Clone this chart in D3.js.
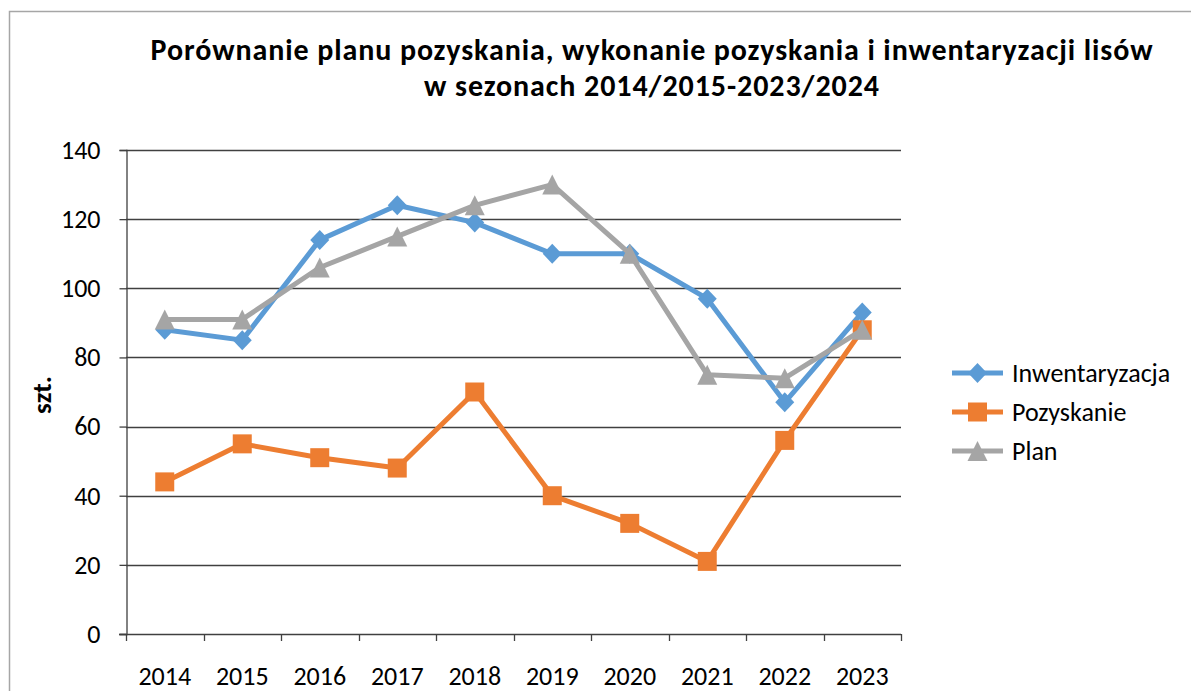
<!DOCTYPE html>
<html>
<head>
<meta charset="utf-8">
<script src="https://cdn.jsdelivr.net/npm/d3@7"></script>
<style>
  html, body { margin: 0; padding: 0; background: #fff; }
  svg { display: block; }
  text { font-family: Carlito, Calibri, Lato, "Open Sans", sans-serif; fill: #000; }
</style>
</head>
<body>
<svg id="chart" width="1191" height="691"></svg>
<script>
// Sezony (rok początkowy sezonu)
const years = ["2014", "2015", "2016", "2017", "2018", "2019", "2020", "2021", "2022", "2023"];
const inwentaryzacja = [88, 85, 114, 124, 119, 110, 110, 97, 67, 93];
const pozyskanie = [44, 55, 51, 48, 70, 40, 32, 21, 56, 88];
const plan = [91, 91, 106, 115, 124, 130, 110, 75, 74, 88];
const yTicks = [0, 20, 40, 60, 80, 100, 120, 140];
const titleLines = [
  "Porównanie planu pozyskania, wykonanie pozyskania i inwentaryzacji lisów",
  "w sezonach 2014/2015-2023/2024"
];

// znaczniki: size = pełna szerokość znacznika w px
const diamond = { draw(ctx, s) { const w = s / 2 * 0.95, h = s / 2;
  ctx.moveTo(0, -h); ctx.lineTo(w, 0); ctx.lineTo(0, h); ctx.lineTo(-w, 0); ctx.closePath(); } };
const square = { draw(ctx, s) { const h = s / 2;
  ctx.moveTo(-h, -h); ctx.lineTo(h, -h); ctx.lineTo(h, h); ctx.lineTo(-h, h); ctx.closePath(); } };
const triangle = { draw(ctx, s) { const h = s / 2;
  ctx.moveTo(0, -h); ctx.lineTo(h, h); ctx.lineTo(-h, h); ctx.closePath(); } };

const series = [
  { name: "Inwentaryzacja", values: inwentaryzacja, color: "#5B9BD5", symbol: diamond, size: 20 },
  { name: "Pozyskanie", values: pozyskanie, color: "#ED7D31", symbol: square, size: 19 },
  { name: "Plan", values: plan, color: "#A5A5A5", symbol: triangle, size: 20 }
];

const svg = d3.select("#chart");

// ramka wykresu
svg.append("rect")
  .attr("x", 9.5).attr("y", 11.5)
  .attr("width", 1200).attr("height", 700)
  .attr("fill", "none").attr("stroke", "#A6A6A6").attr("stroke-width", 1.5);

// tytuł – dwie linie, dopasowane do zadanej szerokości
const titleWidths = [1003, 456];
const title = svg.append("text")
  .attr("text-anchor", "middle")
  .attr("font-size", 30).attr("font-weight", "bold");
title.selectAll("tspan").data(titleLines).join("tspan")
  .attr("x", 652).attr("y", (d, i) => 60 + i * 36)
  .text(d => d)
  .each(function (d, i) {
    const len = this.getComputedTextLength();
    const sp = (titleWidths[i] - len) / d.length;
    d3.select(this).attr("letter-spacing", sp.toFixed(2));
  });

const plot = { left: 126, right: 901, top: 150, bottom: 634 };

const x = d3.scaleBand().domain(years).range([plot.left, plot.right]);
const y = d3.scaleLinear().domain([0, 140]).range([plot.bottom, plot.top]);

// linie siatki
svg.append("g")
  .selectAll("line").data(yTicks.filter(t => t > 0)).join("line")
  .attr("x1", plot.left).attr("x2", plot.right)
  .attr("y1", d => Math.round(y(d)) + 0.5).attr("y2", d => Math.round(y(d)) + 0.5)
  .attr("stroke", "#404040").attr("stroke-width", 1.3);

// oś Y
const yAxis = svg.append("g")
  .attr("transform", `translate(${plot.left + 0.5},0)`)
  .call(d3.axisLeft(y).tickValues(yTicks).tickSize(7).tickPadding(19));
yAxis.select(".domain").attr("stroke", "#404040").attr("stroke-width", 1.3);
yAxis.selectAll(".tick line").attr("stroke", "#404040").attr("stroke-width", 1.3);
yAxis.selectAll(".tick text").attr("font-size", 26).attr("font-family", null).attr("fill", "#000");

// oś X
const xAxis = svg.append("g")
  .attr("transform", `translate(0,${plot.bottom + 0.5})`)
  .call(d3.axisBottom(x).tickSize(0).tickPadding(0));
xAxis.select(".domain").remove();
xAxis.selectAll(".tick text").attr("font-size", 26).attr("font-family", null)
  .attr("fill", "#000").attr("dy", null).attr("y", 50);
svg.append("line")
  .attr("x1", plot.left - 7).attr("x2", plot.right)
  .attr("y1", plot.bottom + 0.5).attr("y2", plot.bottom + 0.5)
  .attr("stroke", "#404040").attr("stroke-width", 1.3);
// znaczniki kategorii na granicach przedziałów
const edges = years.map(d => x(d)).concat([plot.right]);
svg.append("g").selectAll("line").data(edges).join("line")
  .attr("x1", d => Math.round(d) + 0.5).attr("x2", d => Math.round(d) + 0.5)
  .attr("y1", plot.bottom).attr("y2", plot.bottom + 7)
  .attr("stroke", "#404040").attr("stroke-width", 1.3);

// opis osi Y
svg.append("text")
  .attr("transform", "translate(51,395) rotate(-90)")
  .attr("text-anchor", "middle")
  .attr("font-size", 27).attr("font-weight", "bold")
  .text("szt.");

// serie danych
const cx = i => x(years[i]) + x.bandwidth() / 2;
const line = d3.line().x((d, i) => cx(i)).y(d => y(d));

series.forEach(s => {
  const g = svg.append("g");
  g.append("path")
    .datum(s.values)
    .attr("d", line)
    .attr("fill", "none")
    .attr("stroke", s.color).attr("stroke-width", 5)
    .attr("stroke-linejoin", "round");
  g.selectAll("path.mk").data(s.values).join("path")
    .attr("class", "mk")
    .attr("transform", (d, i) => `translate(${cx(i)},${y(d)})`)
    .attr("d", d3.symbol().type(s.symbol).size(s.size))
    .attr("fill", s.color);
});

// legenda
const legend = svg.append("g").attr("transform", "translate(952,373)");
const rows = legend.selectAll("g").data(series).join("g")
  .attr("transform", (d, i) => `translate(0,${i * 39})`);
rows.append("line")
  .attr("x1", 0).attr("x2", 51).attr("y1", 0).attr("y2", 0)
  .attr("stroke", d => d.color).attr("stroke-width", 5);
rows.append("path")
  .attr("transform", "translate(25.5,0)")
  .attr("d", d => d3.symbol().type(d.symbol).size(d.size)())
  .attr("fill", d => d.color);
rows.append("text")
  .attr("x", 60).attr("y", 9)
  .attr("font-size", 26)
  .text(d => d.name);
</script>
</body>
</html>
